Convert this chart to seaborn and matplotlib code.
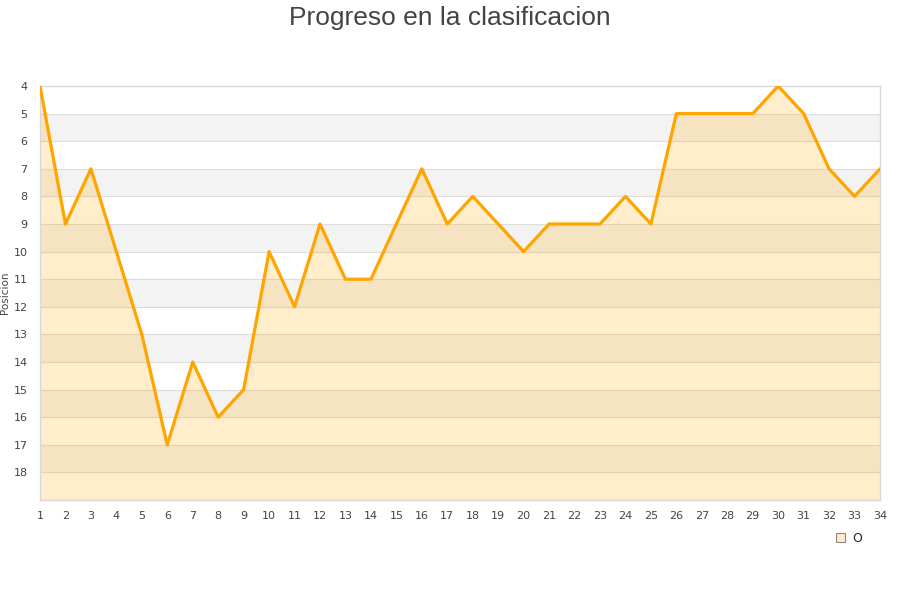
import numpy as np
import pandas as pd
import matplotlib
matplotlib.use("Agg")
import matplotlib.pyplot as plt
import seaborn as sns
from matplotlib.patches import Patch

jornadas = list(range(1, 35))
posicion = [4, 9, 7, 10, 13, 17, 14, 16, 15, 10, 12, 9, 11, 11, 9, 7, 9, 8, 9, 10,
            9, 9, 9, 8, 9, 5, 5, 5, 5, 4, 5, 7, 8, 7]
y_ticks = list(range(4, 19))

df = pd.DataFrame({"jornada": jornadas, "posicion": posicion})

sns.set_style("white")
plt.rcParams["font.family"] = ["DejaVu Sans"]

fig = plt.figure(figsize=(9, 6), dpi=100)
ax = fig.add_axes([40 / 900, 100 / 600, 840 / 900, 414 / 600])

# alternating bands in the background
for b in range(5, 19, 2):
    ax.axhspan(b, b + 1, color="#f3f3f3", zorder=0, lw=0)
for t in range(5, 19):
    ax.axhline(t, color="#dddddd", lw=0.8, zorder=1)

ax.fill_between(df["jornada"], df["posicion"], 19, color="#ffa500", alpha=0.2,
                lw=0, zorder=2)
sns.lineplot(data=df, x="jornada", y="posicion", ax=ax, color="#ffa500",
             lw=2.3, zorder=3)

ax.set_xlim(1, 34)
ax.set_ylim(19, 4)
ax.set_xticks(jornadas)
ax.set_yticks(y_ticks)
ax.tick_params(axis="both", length=0, labelsize=8, colors="#444444")
ax.tick_params(axis="x", pad=8)
ax.tick_params(axis="y", pad=9)
ax.set_xlabel("")
ax.set_ylabel("Posicion", fontsize=7.5, color="#444444")
ax.yaxis.set_label_coords(-0.036, 0.5)
for s in ax.spines.values():
    s.set_color("#d9d9d9")
    s.set_linewidth(1)

fig.suptitle("Progreso en la clasificacion", fontsize=19, color="#444444",
             family=["Liberation Sans", "DejaVu Sans"], y=0.99)

leg = ax.legend(handles=[Patch(facecolor="#ffe9c9", edgecolor="#888888", lw=0.8, label="O")],
                loc="upper right", bbox_to_anchor=(0.992, -0.05), frameon=False,
                fontsize=9, handlelength=0.7, handleheight=0.7, handletextpad=0.6)

fig.savefig("out.png", dpi=100)
